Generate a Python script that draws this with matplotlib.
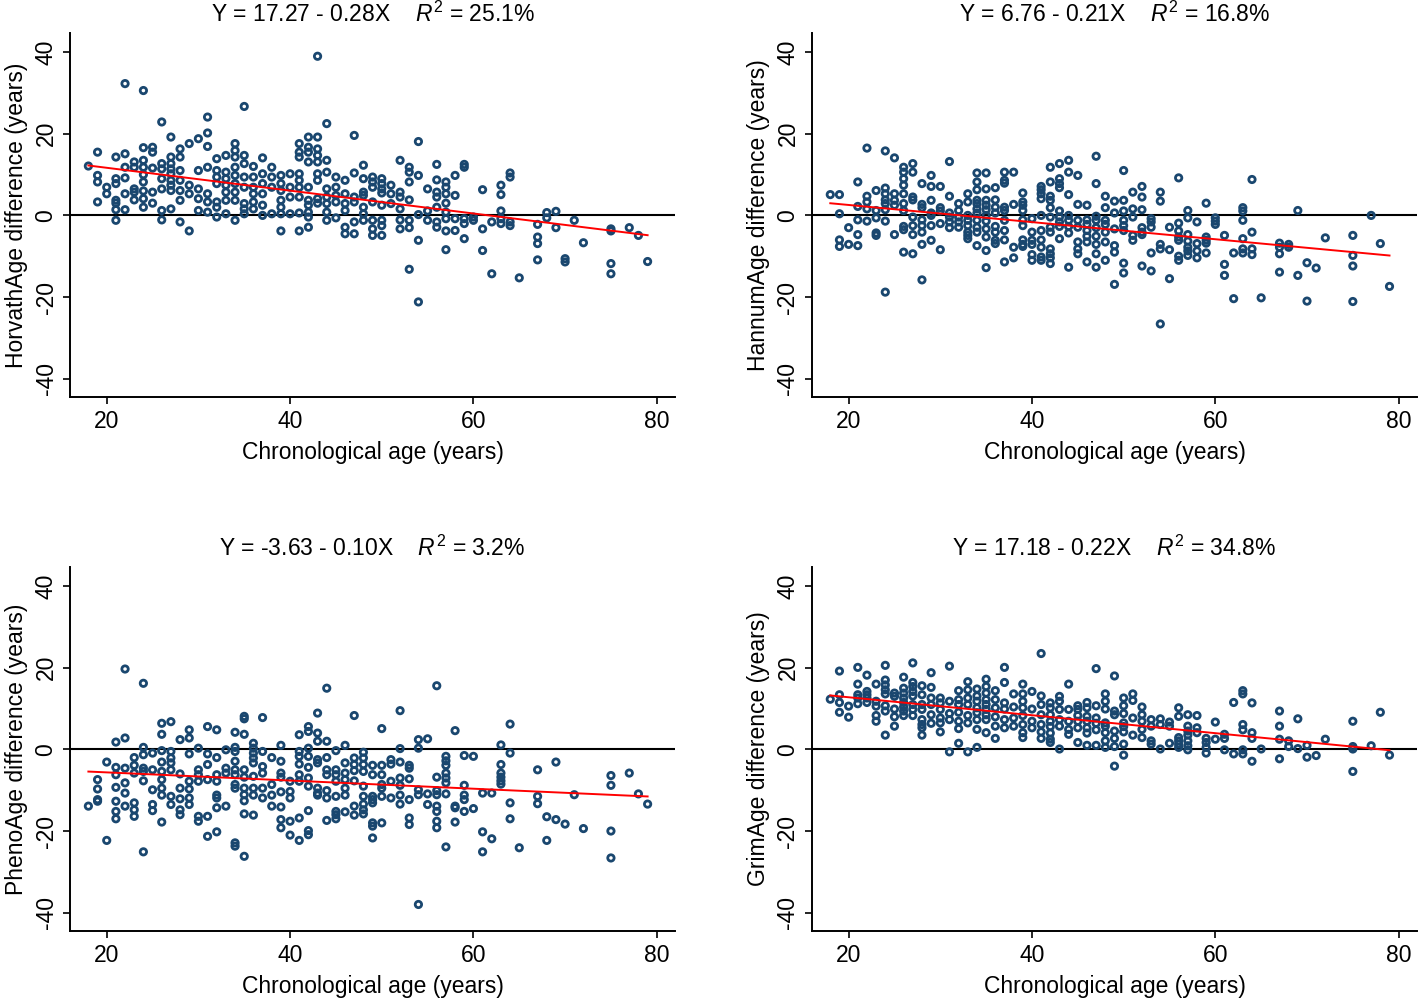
import matplotlib.pyplot as plt
import numpy as np

plt.rcParams['font.family'] = ['Liberation Sans', 'DejaVu Sans']
plt.rcParams['axes.unicode_minus'] = False
plt.rcParams['mathtext.fontset'] = 'custom'
plt.rcParams['mathtext.rm'] = 'Liberation Sans'
plt.rcParams['mathtext.it'] = 'Liberation Sans:italic'

# age -> differences, one dict per panel
horvath = {
    18: [12.1], 19: [15.5, 9.8, 8.2, 3.3], 20: [6.9, 5.3],
    21: [14.3, 9.0, 7.8, 3.7, 3.0, 1.4, -1.2], 22: [32.3, 15.1, 11.8, 9.2, 5.3, 1.4],
    23: [13.1, 11.8, 6.5, 5.7, 3.8], 24: [30.6, 16.6, 13.5, 11.8, 10.0, 8.2, 6.0, 4.1, 2.0],
    25: [16.7, 15.5, 11.6, 5.7, 3.0], 26: [22.9, 12.7, 11.4, 9.0, 6.5, 1.2, -1.1],
    27: [19.2, 14.3, 12.7, 11.4, 10.2, 8.6, 7.4, 6.1, 1.6], 28: [16.3, 14.3, 11.0, 8.6, 6.1, 3.7, -1.6],
    29: [17.6, 7.4, 5.3, -3.8], 30: [18.8, 11.0, 6.5, 4.1, 1.2],
    31: [24.1, 20.2, 16.9, 11.8, 5.3, 3.3, 0.8], 32: [13.9, 11.0, 9.4, 7.8, 3.3, 2.0, -0.4],
    33: [14.7, 10.6, 9.0, 7.4, 5.7, 3.7, 0.4], 34: [17.6, 15.9, 14.3, 11.8, 9.8, 7.8, 5.7, 3.7, -1.2],
    35: [26.7, 14.7, 12.7, 9.4, 6.9, 2.9, 1.6, 0.4], 36: [12.0, 9.4, 6.9, 5.3, 3.3, 1.6],
    37: [14.1, 10.2, 7.8, 5.3, 2.5, 0.0], 38: [11.8, 9.4, 6.9, 0.4],
    39: [9.8, 7.8, 6.1, 3.7, 2.0, 0.4, -3.8], 40: [10.2, 6.9, 4.5, 0.4],
    41: [17.6, 15.5, 14.3, 10.2, 8.6, 6.9, 4.5, 0.6, -3.8],
    42: [19.2, 16.7, 15.5, 13.1, 6.9, 3.7, 2.5, 0.8, -0.4, -2.9],
    43: [39.0, 19.2, 16.3, 14.7, 13.1, 10.2, 8.6, 4.1, 3.0],
    44: [22.5, 13.5, 10.6, 6.5, 4.5, 2.9, 0.8, -1.2], 45: [9.4, 6.9, 4.9, 3.3, -0.6],
    46: [8.6, 5.3, 2.9, 1.2, -2.9, -4.5], 47: [19.6, 10.4, 4.5, 3.3, -1.6, -4.5],
    48: [12.3, 9.0, 5.7, 4.9, 2.0, 0.4, -1.2], 49: [9.4, 8.2, 6.9, 3.3, -1.2, -3.3, -4.9],
    50: [9.0, 7.8, 6.5, 5.5, 2.5, -1.2, -2.5, -4.9], 51: [7.4, 5.3, 2.9],
    52: [13.5, 5.7, 4.5, 1.6, -1.1, -3.3], 53: [11.8, 10.6, 8.2, 3.8, -1.2, -3.0, -13.2],
    54: [18.1, 9.8, 0.2, -6.1, -21.2], 55: [6.5, 1.1, -1.2],
    56: [12.5, 8.7, 5.7, 4.5, 2.0, -1.6, -2.9], 57: [8.2, 6.9, 5.3, 3.0, 0.8, -0.8, -3.8, -8.4],
    58: [9.8, 4.9, -0.8, -3.7], 59: [12.5, 11.8, -0.8, -2.0, -5.7], 60: [-0.4, -1.2],
    61: [6.3, -3.3, -8.6], 62: [-1.6, -14.3], 63: [7.4, 5.1, 1.1, -0.8, -2.0],
    64: [10.4, 9.4, -1.6, -2.5], 65: [-15.3], 67: [-2.2, -5.3, -6.9, -10.9],
    68: [0.7, -0.6], 69: [1.0, -3.0], 70: [-10.6, -11.4], 71: [-1.2], 72: [-6.7],
    75: [-3.3, -3.8, -11.8, -14.3], 77: [-3.0], 78: [-4.9], 79: [-11.3],
}

hannum = {
    18: [5.1], 19: [5.1, 0.4, -6.0, -7.6], 20: [-3.0, -7.1], 21: [8.2, 2.2, -1.1, -4.7, -7.4],
    22: [16.5, 4.7, 3.3, 1.6, -1.4], 23: [6.1, 1.2, -0.6, -4.3, -4.9],
    24: [15.8, 6.7, 5.3, 3.8, 2.9, 1.4, -1.4, -18.8], 25: [14.1, 5.3, 3.7, 2.5, -4.7],
    26: [11.8, 10.6, 9.0, 7.4, 5.3, 2.9, 1.2, -2.7, -3.5, -9.0],
    27: [12.7, 10.6, 4.5, 3.8, -0.4, -2.5, -4.7, -9.4],
    28: [7.8, 2.7, 1.9, -1.1, -2.5, -4.1, -7.1, -15.8], 29: [9.8, 7.1, 3.7, 0.6, 0.0, -2.5, -6.1],
    30: [7.1, 1.9, 1.1, -2.0, -8.4], 31: [13.2, 4.7, 0.6, -0.4, -1.6, -3.0],
    32: [2.9, 1.2, -0.4, -1.6, -2.9], 33: [5.3, 3.3, 0.0, -1.2, -2.5, -4.1, -4.9, -5.7],
    34: [10.4, 8.2, 6.3, 3.7, 2.9, 1.6, 0.6, -1.2, -2.9, -4.1, -7.4],
    35: [10.4, 6.5, 3.7, 2.5, 1.4, 0.0, -1.4, -3.3, -5.3, -8.6, -12.8],
    36: [6.8, 3.8, 2.0, 0.6, -2.7, -4.1, -6.1, -6.9],
    37: [10.6, 8.6, 7.9, 2.0, 1.2, -1.2, -3.7, -6.0, -11.4], 38: [10.6, 2.7, -7.8, -10.4],
    39: [5.5, 3.3, 2.5, 1.2, -1.1, -2.5, -6.0, -7.1, -7.6], 40: [-0.8, -4.1, -6.1, -7.1, -9.6, -11.0],
    41: [7.1, 6.3, 5.3, 4.1, 0.0, -3.7, -6.0, -7.8, -10.2, -11.0],
    42: [11.8, 8.2, 4.7, 3.7, 1.9, -0.4, -2.9, -4.1, -8.2, -9.4, -10.4, -11.8],
    43: [12.7, 9.0, 7.8, 6.8, 1.1, -0.4, -1.6, -2.7, -5.7],
    44: [13.5, 10.6, 5.1, 0.0, -1.2, -2.7, -4.3, -12.7], 45: [9.8, 2.7, -1.2, -2.9, -6.5, -8.2, -9.4],
    46: [2.5, -1.1, -2.2, -3.7, -5.1, -6.5, -11.4],
    47: [14.5, 7.8, -0.2, -1.2, -3.0, -5.1, -7.1, -9.4, -12.7],
    48: [4.7, 1.9, -1.2, -2.2, -4.1, -6.5, -11.0], 49: [3.5, 0.6, -3.3, -7.4, -9.0, -16.9],
    50: [11.0, 3.7, 1.1, -1.2, -2.5, -3.7, -11.7, -14.1], 51: [5.7, 1.6, -0.4, -4.9, -6.1],
    52: [7.1, 4.5, 1.4, -3.0, -4.1, -4.7, -12.4], 53: [-0.8, -1.6, -2.9, -9.2, -13.6],
    54: [5.7, 3.5, -7.1, -8.2, -26.6], 55: [-2.9, -8.4, -15.5],
    56: [9.2, -1.9, -3.8, -5.3, -6.1, -10.0, -11.0], 57: [1.2, -0.6, -4.7, -6.3, -7.8, -8.7, -9.8],
    58: [-1.6, -6.9, -8.7, -10.4], 59: [3.0, -5.3, -6.1, -6.8, -9.2], 60: [-0.6, -1.4, -2.2],
    61: [-4.9, -12.0, -14.7], 62: [-9.2, -20.4], 63: [1.9, 1.1, -1.2, -5.7, -8.2, -9.2],
    64: [8.8, -4.1, -8.2, -9.6], 65: [-20.2], 67: [-6.8, -7.8, -9.4, -13.9], 68: [-7.1, -7.8],
    69: [1.2, -14.7], 70: [-11.6, -21.0], 71: [-12.9], 72: [-5.5],
    75: [-4.9, -9.8, -12.4, -21.1], 77: [0.0], 78: [-6.9], 79: [-17.4],
}

pheno = {
    18: [-13.9], 19: [-7.4, -9.7, -12.3, -12.7], 20: [-3.1, -22.3],
    21: [1.8, -4.4, -6.2, -9.3, -12.7, -15.2, -17.0], 22: [19.7, 2.8, -4.6, -8.2, -10.7, -13.9],
    23: [-2.0, -3.9, -5.8, -13.1, -14.8, -16.4], 24: [16.2, 0.5, -1.3, -4.6, -5.4, -7.7, -25.1],
    25: [-0.9, -5.0, -9.9, -13.5, -15.0],
    26: [6.4, 3.7, -0.3, -3.1, -5.4, -7.4, -9.5, -11.2, -17.8],
    27: [6.8, -0.5, -2.1, -3.3, -5.0, -11.5, -13.5], 28: [2.4, -6.0, -9.5, -12.1, -14.8, -16.0],
    29: [4.8, 2.8, -1.1, -7.8, -9.7, -11.9, -13.5], 30: [0.3, -5.0, -6.2, -7.8, -16.4, -17.6],
    31: [5.6, -1.1, -3.7, -7.4, -16.4, -21.3],
    32: [4.8, -2.0, -6.2, -7.8, -11.2, -11.9, -14.3, -20.2], 33: [-0.1, -4.6, -5.8, -13.9],
    34: [4.2, 0.5, -0.5, -2.9, -5.0, -6.2, -8.6, -9.5, -22.9, -23.7],
    35: [8.1, 7.5, 3.7, -5.0, -6.8, -9.5, -11.1, -12.6, -15.8, -26.2],
    36: [1.5, 0.3, -0.9, -2.1, -3.3, -6.6, -9.5, -11.2, -16.1],
    37: [7.8, -0.5, -4.2, -5.8, -9.5, -11.9], 38: [-2.0, -8.6, -11.2, -13.9],
    39: [1.0, -2.9, -5.8, -6.8, -10.4, -14.1, -17.2, -19.2], 40: [-7.8, -10.3, -11.9, -17.6, -21.0],
    41: [3.6, -0.5, -1.7, -3.6, -6.2, -7.8, -16.8, -22.3],
    42: [5.6, 4.4, 0.3, -1.7, -4.4, -7.0, -9.0, -15.0, -19.9, -20.9],
    43: [8.9, 4.0, 2.0, -2.5, -3.3, -9.5, -10.7, -11.2],
    44: [15.0, 2.0, -2.0, -5.0, -6.2, -10.1, -11.9, -17.4],
    45: [-0.3, -5.0, -6.2, -7.8, -11.5, -15.2, -16.0, -17.0],
    46: [1.0, -3.3, -5.8, -7.4, -9.5, -11.2, -15.3], 47: [8.3, -2.1, -3.7, -5.2, -7.7, -13.9, -16.1],
    48: [-0.7, -2.1, -3.7, -5.4, -9.0, -11.5, -13.4, -14.8, -15.8],
    49: [-3.9, -6.2, -11.5, -12.3, -13.1, -18.0, -18.8, -21.7],
    50: [5.1, -3.9, -6.2, -8.6, -9.5, -11.5, -18.0], 51: [-2.5, -3.6, -7.8, -11.9],
    52: [9.5, 0.2, -3.1, -7.0, -8.8, -11.2, -13.4], 53: [-3.9, -4.6, -7.2, -12.3, -16.8, -18.4],
    54: [2.4, 0.3, -9.9, -11.1, -38.0], 55: [2.6, -10.9, -13.5],
    56: [15.6, -6.8, -10.1, -11.1, -13.9, -15.2, -17.6, -19.2],
    57: [-1.7, -2.8, -3.9, -5.8, -7.0, -8.2, -10.9, -23.9], 58: [4.6, -13.9, -14.3, -17.8],
    59: [-1.5, -8.8, -11.2, -12.3, -15.2], 60: [-1.7, -14.5], 61: [-10.7, -20.2, -25.1],
    62: [-10.7, -21.9], 63: [1.1, -3.7, -5.8, -6.8, -7.7, -8.5], 64: [6.2, -0.9, -13.1, -17.0],
    65: [-24.1], 67: [-5.0, -11.5, -13.3], 68: [-16.5, -22.3], 69: [-3.1, -17.2], 70: [-18.3],
    71: [-11.1], 72: [-19.4], 75: [-6.4, -8.8, -20.0, -26.6], 77: [-5.8], 78: [-10.9], 79: [-13.4],
}

grim = {
    18: [12.3], 19: [19.2, 13.4, 11.5, 9.1], 20: [10.6, 7.9], 21: [20.1, 16.0, 13.4, 12.6, 11.2],
    22: [18.2, 14.2, 13.4, 12.6, 11.5], 23: [16.0, 11.8, 10.6, 8.3, 6.9],
    24: [20.6, 17.0, 15.8, 14.6, 13.6, 10.7, 9.4, 3.5], 25: [13.8, 13.0, 9.9, 8.0, 5.7],
    26: [17.7, 15.0, 13.8, 12.6, 11.5, 10.4, 9.4, 8.3],
    27: [21.2, 16.4, 15.4, 14.2, 13.1, 11.0, 9.8, 8.3],
    28: [15.6, 13.4, 11.0, 9.8, 7.3, 6.1, 5.3, 3.5], 29: [18.8, 15.2, 12.6, 11.0, 8.5, 6.4],
    30: [12.6, 11.4, 9.8, 7.7, 6.5, 4.3], 31: [20.4, 11.8, 8.8, 7.3, -0.6],
    32: [14.4, 12.2, 11.0, 9.1, 6.9, 5.1, 1.5], 33: [16.6, 14.6, 12.6, 11.0, 8.3, 6.5, -0.6],
    34: [14.8, 13.1, 11.8, 10.2, 9.0, 7.3, 4.9, 0.5],
    35: [17.2, 15.4, 13.8, 12.2, 11.0, 9.8, 8.5, 7.3, 4.1], 36: [14.4, 12.2, 10.2, 8.0, 5.7, 2.7],
    37: [20.1, 16.4, 11.4, 9.9, 7.3, 5.3], 38: [13.6, 10.4, 7.7, 5.7],
    39: [16.0, 13.6, 11.8, 10.2, 8.3, 6.1, 4.1, 2.9], 40: [14.2, 9.9, 6.9, 5.3],
    41: [23.5, 13.1, 11.0, 8.5, 6.1, 4.3, 2.7], 42: [11.4, 10.2, 8.5, 6.9, 5.6, 4.0, 2.5, 1.7],
    43: [13.0, 11.8, 9.8, 7.3, 5.7, 0.1], 44: [16.0, 9.8, 6.9, 4.9, 3.7],
    45: [10.7, 9.8, 8.3, 6.9, 5.3, 1.7], 46: [11.5, 10.2, 8.1, 6.9, 5.3, 4.0, 1.0],
    47: [19.8, 10.7, 7.7, 6.4, 4.8, 1.0], 48: [13.6, 11.8, 9.9, 6.5, 5.7, 4.1, 2.1, 0.5],
    49: [18.0, 9.4, 8.5, 4.5, 2.7, 0.7, -4.1], 50: [12.6, 10.7, 8.8, 6.5, 5.6, 4.3, 1.3, -1.4],
    51: [13.6, 12.0, 7.7, 3.5], 52: [10.4, 8.5, 6.9, 4.9, 2.9], 53: [7.3, 5.7, 2.1, 1.3],
    54: [7.5, 6.1, 0.1], 55: [6.7, 5.7, 1.5], 56: [10.2, 8.1, 2.9, 2.1, 1.3, 0.5],
    57: [8.5, 5.7, 4.5, 3.5, 2.1, 0.9, -0.1], 58: [8.3, 5.3, 4.1], 59: [2.7, 1.7, 0.5, -0.9],
    60: [6.7, 2.5], 61: [3.7, 2.7, -0.1], 62: [11.5, -1.1], 63: [14.4, 13.6, 6.1, 4.8, -0.1, -1.1],
    64: [11.4, 4.1, 2.7, -2.9], 65: [0.1], 67: [9.4, 5.7, 2.5, -2.3], 68: [2.1, 0.7],
    69: [7.5, 0.2], 70: [1.0, -1.9], 71: [-1.5], 72: [2.5], 75: [6.9, 0.7, 0.1, -5.4],
    77: [0.9], 78: [9.1], 79: [-1.4],
}

ylabels = ['HorvathAge difference (years)', 'HannumAge difference (years)',
           'PhenoAge difference (years)', 'GrimAge difference (years)']
intercepts = [17.27, 6.76, -3.63, 17.18]
slopes = [-0.28, -0.21, -0.10, -0.22]
r2 = [25.1, 16.8, 3.2, 34.8]

navy = '#1a476f'
rects = [[0.0494, 0.603, 0.4267, 0.364], [0.5726, 0.603, 0.4267, 0.364],
         [0.0494, 0.069, 0.4267, 0.364], [0.5726, 0.069, 0.4267, 0.364]]

fig = plt.figure(figsize=(14.18, 10), dpi=100)

for data, ylab, a, b, r, rect in zip([horvath, hannum, pheno, grim], ylabels,
                                     intercepts, slopes, r2, rects):
    ax = fig.add_axes(rect)
    x = [age for age, vals in data.items() for v in vals]
    y = [v for vals in data.values() for v in vals]

    ax.axhline(0, color='black', lw=1.5, zorder=1)
    ax.scatter(x, y, s=21, facecolors='none', edgecolors=navy, linewidths=2.0, zorder=2)
    xs = np.array([min(x), max(x)])
    ax.plot(xs, a + b * xs, color='red', lw=1.4, zorder=3)

    ax.set_xlim(16, 82)
    ax.set_ylim(-44.5, 44.7)
    ax.set_xticks([20, 40, 60, 80])
    ax.set_yticks([-40, -20, 0, 20, 40])
    for side in ['top', 'right']:
        ax.spines[side].set_visible(False)
    for side in ['left', 'bottom']:
        ax.spines[side].set_linewidth(1.4)
    ax.tick_params(direction='out', length=5, width=1.2, labelsize=16.5, pad=4)
    ax.tick_params(axis='y', labelrotation=90)
    for lbl in ax.get_yticklabels():
        lbl.set_va('center')

    ax.set_xlabel('Chronological age (years)', fontsize=16.5, labelpad=6)
    ax.set_ylabel(ylab, fontsize=16.5, labelpad=5)
    ax.set_title(f'Y = {a:.2f} - {abs(b):.2f}X    $\\mathit{{R}}^2$ = {r:.1f}%',
                 fontsize=16.5, pad=8)

fig.savefig('out.png', dpi=100)
